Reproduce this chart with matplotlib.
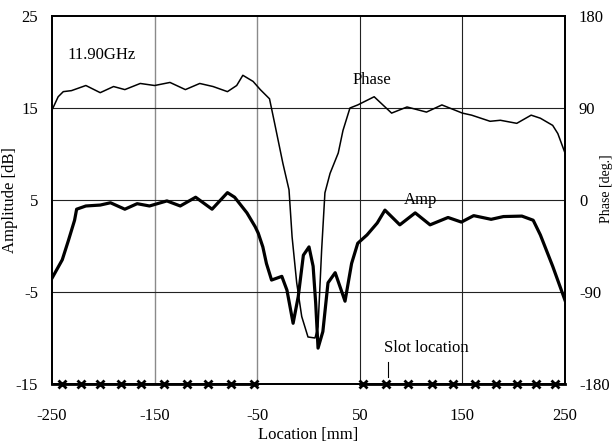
import matplotlib
matplotlib.use("Agg")
import matplotlib.pyplot as plt

# ── Data ────────────────────────────────────────────────────────────────────
phase_x = [-250, -244, -239, -231, -217, -203, -190, -179, -164, -150, -135,
           -120, -106, -93, -79, -70, -64, -54, -47, -38, -33, -25, -19, -16,
           -11.5, -6.6, -0.5, 6.3, 9.3, 12.8, 16, 21, 29, 33.6, 40.4, 48, 64,
           81, 96, 115, 130, 150, 159, 177, 187, 203, 217, 226, 238, 243, 250]
phase_deg = [88, 101, 106, 107, 112, 105, 111, 108, 114, 112, 115,
             108, 114, 111, 106, 112, 122, 116, 108, 99, 75, 36, 10, -36,
             -81, -114, -134, -135, -124, -49, 7, 26, 46, 68, 90, 93, 101,
             85, 91, 86, 93, 85, 83, 77, 78, 75, 83, 80, 73, 65, 46]

amp_x = [-250, -240, -234, -228, -226, -217, -203, -193, -179, -167, -155,
         -138, -125, -110, -94, -79, -72, -60, -52, -49, -44.5, -41, -36,
         -26, -21, -15, -10, -5, 0.5, 4.5, 7, 9.3, 14, 19, 26, 35.6, 42, 48,
         57, 67, 74.5, 89, 104, 118.5, 136, 149, 161, 178, 190, 208, 219,
         226, 238, 250]
amp_db = [-3.5, -1.5, 0.6, 2.8, 4.0, 4.35, 4.45, 4.7, 4.0, 4.6, 4.35,
          4.9, 4.35, 5.3, 4.0, 5.8, 5.3, 3.6, 2.1, 1.4, -0.1, -1.9, -3.7,
          -3.3, -4.8, -8.4, -5.5, -1.0, -0.1, -2.2, -6.2, -11.1, -9.3, -4.0,
          -2.9, -6.0, -1.9, 0.3, 1.2, 2.5, 3.9, 2.3, 3.6, 2.3, 3.1, 2.6, 3.3,
          2.9, 3.2, 3.25, 2.8, 1.2, -2.2, -5.9]

slot_x = [-240, -222, -203, -183, -163, -141, -118, -98, -76, -53,
          53, 76, 97, 120, 141, 162, 183, 203, 222, 240]
slot_band_left = [-250, -50]
slot_band_right = [50, 250]

amp_ticks = [-15, -5, 5, 15, 25]
phase_ticks = [-180, -90, 0, 90, 180]
loc_ticks = [-250, -150, -50, 50, 150, 250]

plt.rcParams["font.family"] = ["Liberation Serif", "DejaVu Serif"]
plt.rcParams["axes.unicode_minus"] = False

fig = plt.figure(figsize=(6.13, 4.46), dpi=100)
ax = fig.add_axes([52 / 613, 1 - 384 / 446, 513 / 613, 368 / 446])
ax2 = ax.twinx()

# grid
for gx in [-150, -50]:
    ax.axvline(gx, color="#8a8a8a", lw=1.0, zorder=1)
for gx in [50, 150]:
    ax.axvline(gx, color="#222222", lw=0.8, zorder=1)
for gy in [-5, 5, 15]:
    ax.axhline(gy, color="#222222", lw=0.8, zorder=1)

ax.plot(amp_x, amp_db, color="black", lw=2.3, zorder=3)
ax2.plot(phase_x, phase_deg, color="black", lw=1.1, zorder=3)

# slot locations
ax.plot(slot_band_left, [-15, -15], color="black", lw=2.0, zorder=4, clip_on=False)
ax.plot(slot_band_right, [-15, -15], color="black", lw=2.0, zorder=4, clip_on=False)
ax.plot(slot_x, [-15] * len(slot_x), ls="none", marker="x", ms=6, mew=2,
        color="black", zorder=5, clip_on=False)

ax.set_xlim(-250, 250)
ax.set_ylim(-15, 25)
ax2.set_ylim(-180, 180)
ax.set_xticks(loc_ticks)
ax.set_yticks(amp_ticks)
ax2.set_yticks(phase_ticks)

fs = 12
ax.tick_params(axis="x", length=0, pad=17, labelsize=fs)
ax.tick_params(axis="y", length=0, pad=10, labelsize=fs)
ax2.tick_params(axis="y", length=0, pad=10, labelsize=fs)

for a in (ax, ax2):
    for s in a.spines.values():
        s.set_linewidth(1.3)
        s.set_color("black")

ax.set_xlabel("Location [mm]", fontsize=fs)
ax.xaxis.set_label_coords(0.5, -0.118)
ax.set_ylabel("Amplitude [dB]", fontsize=fs)
ax.yaxis.set_label_coords(-0.066, 0.5)
ax2.set_ylabel("Phase [deg.]", fontsize=10)
ax2.yaxis.set_label_coords(1.068, 0.53)

ax.text(-235, 20.8, "11.90GHz", fontsize=fs, va="center", ha="left")
ax.text(43, 18.0, "Phase", fontsize=fs, va="center", ha="left")
ax.text(93, 5.0, "Amp", fontsize=fs, va="center", ha="left")
ax.text(74, -11.1, "Slot location", fontsize=fs, va="center", ha="left")
ax.plot([77, 77], [-12.6, -14.2], color="black", lw=0.8)

fig.savefig("out.png", dpi=100)
